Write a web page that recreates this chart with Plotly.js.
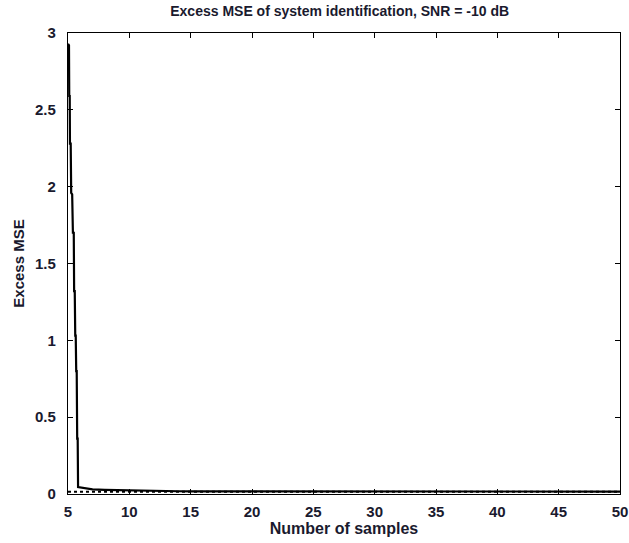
<!DOCTYPE html>
<html>
<head>
<meta charset="utf-8">
<script src="https://cdn.plot.ly/plotly-3.0.1.min.js"></script>
<style>html,body{margin:0;padding:0;background:#fff;}#plot{width:629px;height:543px;}</style>
</head>
<body>
<div id="plot"></div>
<script>
// Excess MSE curve
const samples = [5.0, 5.08, 5.10, 5.14, 5.16, 5.22, 5.26, 5.34, 5.40, 5.47, 5.50, 5.55, 5.59, 5.63, 5.67, 5.71, 5.75, 5.79, 5.82, 6.0, 6.5, 7.0, 8.0, 9.0, 10.0, 11.0, 12.0, 13.0, 14.0, 15.0, 20.0, 25.0, 30.0, 35.0, 40.0, 45.0, 50.0];
const excessMSE = [2.93, 2.92, 2.59, 2.59, 2.28, 2.28, 1.96, 1.95, 1.70, 1.70, 1.32, 1.32, 1.03, 1.03, 0.80, 0.80, 0.36, 0.36, 0.045, 0.042, 0.036, 0.03, 0.027, 0.025, 0.022, 0.021, 0.02, 0.019, 0.018, 0.017, 0.017, 0.016, 0.016, 0.016, 0.016, 0.016, 0.016];
// Theoretical floor (dotted)
const floorX = [5, 50];
const floorY = [0.014, 0.014];

const xTicks = [5, 10, 15, 20, 25, 30, 35, 40, 45, 50];
const yTicks = [0, 0.5, 1, 1.5, 2, 2.5, 3];
const yTickText = ['0', '0.5', '1', '1.5', '2', '2.5', '3'];

const fontFam = '"Liberation Sans", Arial, sans-serif';
const txtColor = '#1a1a2e';

const traces = [
  {x: samples, y: excessMSE, type: 'scatter', mode: 'lines',
   line: {color: '#000', width: 2.2}, hoverinfo: 'skip'},
  {x: floorX, y: floorY, type: 'scatter', mode: 'lines',
   line: {color: '#000', width: 2, dash: 'dot'}, hoverinfo: 'skip'}
];

const layout = {
  width: 629, height: 543,
  margin: {l: 68, r: 9, t: 33, b: 49},
  paper_bgcolor: '#fff', plot_bgcolor: '#fff',
  showlegend: false,
  title: {text: '<b>Excess MSE of system identification, SNR = -10 dB</b>',
          font: {family: fontFam, size: 14, color: txtColor},
          x: 0.54, xanchor: 'center', y: 0.988, yanchor: 'top'},
  xaxis: {range: [5, 50], tickvals: xTicks, ticktext: xTicks.map(String),
          ticks: 'inside', ticklen: 5, tickcolor: '#000', tickwidth: 1,
          showline: true, linecolor: '#000', linewidth: 1.2, mirror: 'ticks',
          showgrid: false, zeroline: false,
          tickfont: {family: fontFam, size: 15, color: txtColor, weight: 'bold'},
          ticklabelstandoff: 4,
          title: {text: '<b>Number of samples</b>', font: {family: fontFam, size: 16, color: txtColor}, standoff: 3}},
  yaxis: {range: [0, 3], tickvals: yTicks, ticktext: yTickText,
          ticks: 'inside', ticklen: 5, tickcolor: '#000', tickwidth: 1,
          showline: true, linecolor: '#000', linewidth: 1.2, mirror: 'ticks',
          showgrid: false, zeroline: false,
          tickfont: {family: fontFam, size: 15, color: txtColor, weight: 'bold'},
          ticklabelstandoff: 8,
          title: {text: '<b>Excess MSE</b>', font: {family: fontFam, size: 15, color: txtColor}, standoff: 6}}
};

Plotly.newPlot('plot', traces, layout, {displayModeBar: false, staticPlot: true});
</script>
</body>
</html>
